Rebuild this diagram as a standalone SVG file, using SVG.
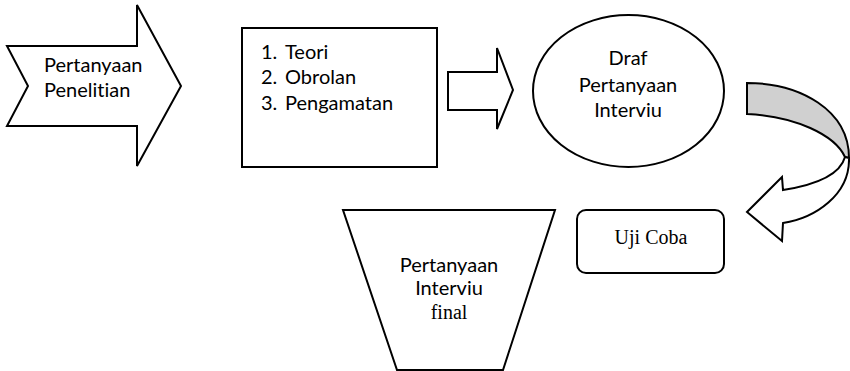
<svg xmlns="http://www.w3.org/2000/svg" width="850" height="371" viewBox="0 0 850 371">
<style>
.s{fill:#fff;stroke:#000;stroke-width:2;stroke-linejoin:miter}
.t{font-family:Lato,"Liberation Sans",sans-serif;font-size:20px;fill:#000;font-variant-ligatures:none;font-feature-settings:"liga" 0}
.r{font-family:"Liberation Serif","Times New Roman",serif;font-size:20px;fill:#000}
.c{text-anchor:middle}
</style>
<rect width="850" height="371" fill="#fff"/>
<g id="node-pertanyaan-penelitian">
<polygon class="s" points="7,46 137,46 137,5 181,86 137,166 137,126 7,126 28,86"/>
<text class="t" x="44" y="72">Pertanyaan</text>
<text class="t" x="44" y="97">Penelitian</text>
</g>
<g id="node-sumber">
<rect class="s" x="242" y="28" width="195" height="139"/>
<text class="t" x="261" y="59">1.</text><text class="t" x="285" y="59">Teori</text>
<text class="t" x="261" y="84">2.</text><text class="t" x="285" y="84">Obrolan</text>
<text class="t" x="261" y="110">3.</text><text class="t" x="285" y="110">Pengamatan</text>
</g>
<g id="node-draf">
<ellipse class="s" cx="628.5" cy="91" rx="95.5" ry="76"/>
<text class="t c" x="628" y="65">Draf</text>
<text class="t c" x="628" y="92">Pertanyaan</text>
<text class="t c" x="628" y="117">Interviu</text>
</g>
<g id="node-uji-coba">
<rect class="s" x="577" y="210" width="147" height="63" rx="9" ry="9"/>
<text class="r c" x="651" y="244">Uji Coba</text>
</g>
<g id="node-final">
<polygon class="s" points="343,210 555,210 503,370 397,370"/>
<text class="t c" x="449" y="272">Pertanyaan</text>
<text class="t c" x="449" y="295">Interviu</text>
<text class="r c" x="449" y="319">final</text>
</g>
<g id="connectors">
<polygon class="s" points="448,72 497,72 497,48 513,90 497,129 497,110 448,110"/>
<path class="s" style="fill:#d0d0d0" d="M747,83 C800,83 849,110 849,158 L845,157 C835,135 795,116 747,114 Z"/>
<path class="s" d="M849,158 C850,195 815,218 783,223 L782,241 L747,212 L782,177 L783,190 C815,185 840,175 845,157 Z"/>
</g>
</svg>
